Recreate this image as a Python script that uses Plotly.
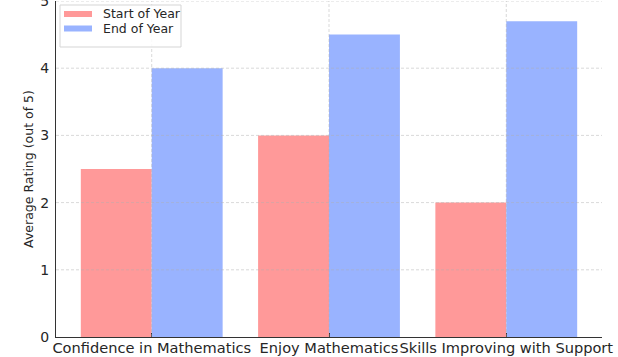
import plotly.graph_objects as go

categories = ["Confidence in Mathematics", "Enjoy Mathematics", "Skills Improving with Support"]
start_of_year = [2.5, 3.0, 2.0]
end_of_year = [4.0, 4.5, 4.7]
y_ticks = [0, 1, 2, 3, 4, 5]
series_names = ["Start of Year", "End of Year"]

RED = "#ff9999"
BLUE = "#99b3ff"
FONT = "DejaVu Sans"
TEXT = "#262626"

W, H = 618, 357
M = dict(l=56, r=16, t=1, b=20)
PW = W - M["l"] - M["r"]
PH = H - M["t"] - M["b"]


def px_x(p):
    return (p - M["l"]) / PW


def px_y(p):
    return (H - M["b"] - p) / PH


fig = go.Figure()
fig.add_trace(go.Bar(x=categories, y=start_of_year, name=series_names[0],
                     marker=dict(color=RED, line=dict(width=0)), showlegend=False))
fig.add_trace(go.Bar(x=categories, y=end_of_year, name=series_names[1],
                     marker=dict(color=BLUE, line=dict(width=0)), showlegend=False))

# fine dashed grid drawn over the bars
grid = dict(color="rgba(175,175,175,0.6)", width=0.8, dash="3px,2px")
for t in y_ticks[1:]:
    fig.add_shape(type="line", xref="paper", x0=0, x1=1, yref="y", y0=t, y1=t,
                  line=grid, layer="above")
for c in categories:
    fig.add_shape(type="line", xref="x", x0=c, x1=c, yref="paper", y0=0, y1=1,
                  line=grid, layer="above")

# legend box in the upper-left corner
fig.add_shape(type="rect", xref="paper", yref="paper",
              x0=px_x(60), x1=px_x(181), y0=px_y(47), y1=px_y(5),
              line=dict(color="#d5d5d5", width=1), fillcolor="rgba(255,255,255,0.85)",
              layer="above")
for i, (name, col) in enumerate(zip(series_names, [RED, BLUE])):
    yc = 14 + i * 14.5
    fig.add_shape(type="rect", xref="paper", yref="paper",
                  x0=px_x(64), x1=px_x(92), y0=px_y(yc + 3), y1=px_y(yc - 3),
                  line=dict(width=0), fillcolor=col, layer="above")
    fig.add_annotation(xref="paper", yref="paper", x=px_x(101), y=px_y(yc),
                       text=name, showarrow=False, xanchor="left", yanchor="middle",
                       font=dict(family=FONT, size=12.5, color=TEXT))

fig.update_layout(
    width=W, height=H,
    margin=M,
    paper_bgcolor="white", plot_bgcolor="white",
    barmode="group", bargap=0.2, bargroupgap=0,
    font=dict(family=FONT, size=14, color=TEXT),
    showlegend=False,
    xaxis=dict(range=[-0.54, 2.54], showgrid=False, showline=True,
               linecolor="#333333", linewidth=1.2, ticks="inside", ticklen=4,
               tickcolor="#333333", tickfont=dict(size=14.6), zeroline=False,
               tickangle=0, automargin=False, ticklabelstandoff=-3),
    yaxis=dict(range=[0, 5], tickvals=y_ticks, showgrid=False, showline=True,
               linecolor="#333333", linewidth=1.2, ticks="", tickfont=dict(size=14),
               zeroline=False, ticklabelstandoff=3, automargin=False,
               ticklabeloverflow="allow",
               title=dict(text="Average Rating (out of 5)", font=dict(size=12.5), standoff=3)),
)

fig.write_html("out.html")
